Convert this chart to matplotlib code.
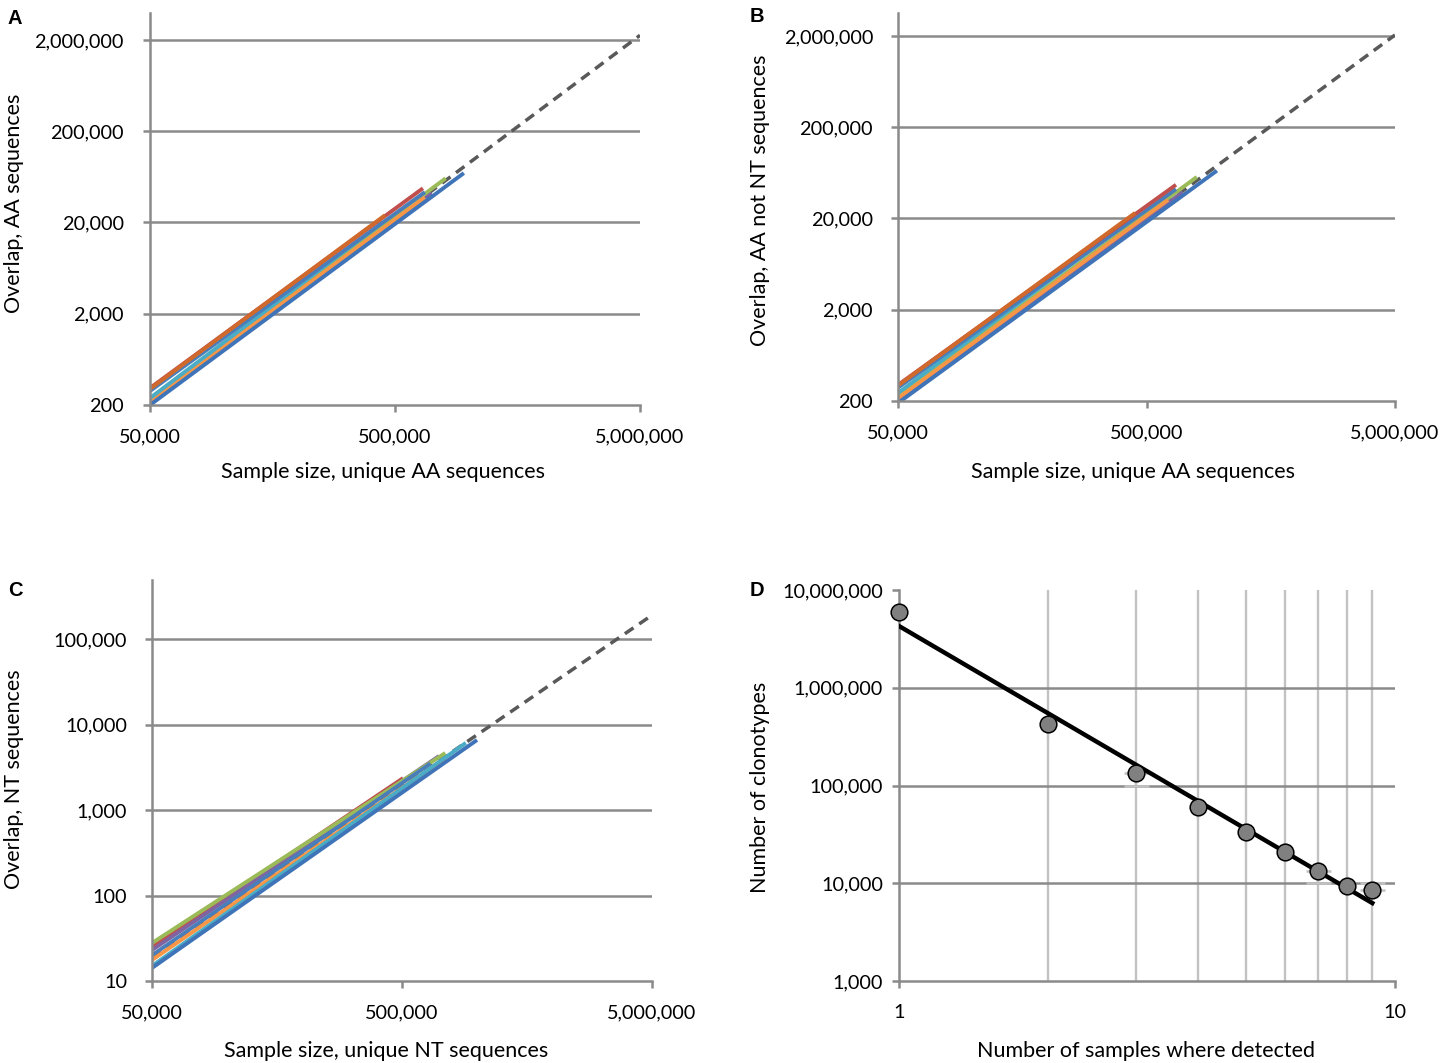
import numpy as np
import matplotlib
matplotlib.use("Agg")
import matplotlib.pyplot as plt
from matplotlib.ticker import FixedLocator, FuncFormatter, NullLocator

plt.rcParams['font.family'] = ['Lato', 'DejaVu Sans']

W, H = 1441, 1063

# ---- data ----
size_ticks = [50000, 500000, 5000000]

# panel A: overlap, AA sequences
a_colors = ['#8064A2', '#9BBB59', '#F79646', '#4BACC6', '#4A7EBB', '#C0504D', '#D06A2C', '#3F74B8']
a_start_overlap = [211, 235, 219, 238, 285, 307, 300, 200]      # at 50,000
a_end_size = [706000, 805000, 662000, 447000, 662000, 650000, 455000, 955000]
a_end_overlap = [42000, 61000, 37800, 20200, 43000, 47400, 24000, 69600]
a_exp_size = [50000, 5000000]
a_exp_overlap = [220, 2250000]
a_yticks = [200, 2000, 20000, 200000, 2000000]

# panel B: overlap, AA not NT sequences
b_colors = a_colors
b_start_overlap = [199, 224, 214, 245, 280, 300, 295, 190]
b_end_size = [700000, 797000, 611000, 447000, 657000, 657000, 450000, 960000]
b_end_overlap = [39000, 57000, 32000, 20500, 42000, 46800, 23000, 66800]
b_exp_size = [50000, 5000000]
b_exp_overlap = [205, 2050000]
b_yticks = [200, 2000, 20000, 200000, 2000000]

# panel C: overlap, NT sequences
c_colors = ['#C0504D', '#8064A2', '#9BBB59', '#4A7EBB', '#F79646', '#4BACC6', '#3F74B8']
c_start_overlap = [25, 23, 27.8, 20, 17.6, 15, 14.2]
c_end_size = [505000, 703000, 745000, 650000, 745000, 900000, 998000]
c_end_overlap = [2360, 4270, 4640, 3500, 4040, 6090, 6590]
c_exp_size = [50000, 5000000]
c_exp_overlap = [19, 190000]
c_yticks = [10, 100, 1000, 10000, 100000]

# panel D: clonotypes vs number of samples
samples = [1, 2, 3, 4, 5, 6, 7, 8, 9]
clonotypes = [5960000, 426000, 134000, 60300, 33500, 20900, 13300, 9400, 8500]
clono_low = [5960000, 290000, 100000, 44000, 23000, 17300, 10000, 6700, 8500]
clono_high = [5960000, 426000, 134000, 60300, 33500, 20900, 13300, 9400, 10000]
fit_coef, fit_exp = 4.28e6, -2.97
d_yticks = [1000, 10000, 100000, 1000000, 10000000]
d_xticks = [1, 10]
d_minor = [2, 3, 4, 5, 6, 7, 8, 9]

GRID = '#8a8a8a'
LIGHT = '#c2c2c2'
comma = FuncFormatter(lambda v, p: f'{v:,.0f}')


def px_axes(fig, left, top, right, bottom):
    return fig.add_axes([left / W, 1 - bottom / H, (right - left) / W, (bottom - top) / H])


def style_axes(ax, xticks, yticks, ylabel_pad, xlabel_pad=11.5):
    ax.set_xscale('log')
    ax.set_yscale('log')
    ax.xaxis.set_major_locator(FixedLocator(xticks))
    ax.yaxis.set_major_locator(FixedLocator(yticks))
    ax.xaxis.set_minor_locator(NullLocator())
    ax.yaxis.set_minor_locator(NullLocator())
    ax.xaxis.set_major_formatter(comma)
    ax.yaxis.set_major_formatter(comma)
    for s in ['top', 'right']:
        ax.spines[s].set_visible(False)
    for s in ['left', 'bottom']:
        ax.spines[s].set_color(GRID)
        ax.spines[s].set_linewidth(1.8)
    ax.tick_params(axis='both', length=5, width=1.8, color=GRID, labelsize=14.3)
    ax.tick_params(axis='y', pad=ylabel_pad)
    ax.tick_params(axis='x', pad=xlabel_pad)
    ax.set_axisbelow(True)


def overlap_panel(ax, colors, start, end_size, end_overlap, exp_size, exp_overlap,
                  yticks, ylim, ypad):
    style_axes(ax, size_ticks, yticks, ypad)
    ax.set_xlim(size_ticks[0], size_ticks[-1])
    ax.set_ylim(*ylim)
    for y in yticks[1:]:
        ax.axhline(y, color=GRID, lw=1.8, zorder=0)
    ax.plot(exp_size, exp_overlap, color='#595959', lw=2.5,
            linestyle=(0, (3, 2)), zorder=1)
    for col, s0, xs, ys in zip(colors, start, end_size, end_overlap):
        ax.plot([size_ticks[0], xs], [s0, ys], color=col, lw=2.8,
                solid_capstyle='butt', zorder=2)


fig = plt.figure(figsize=(W / 100, H / 100), dpi=100)

# A
axA = px_axes(fig, 150, 13, 640, 405)
overlap_panel(axA, a_colors, a_start_overlap, a_end_size, a_end_overlap,
              a_exp_size, a_exp_overlap, a_yticks, (200, 3.95e6), 14)

# B
axB = px_axes(fig, 898, 13, 1395, 401)
overlap_panel(axB, b_colors, b_start_overlap, b_end_size, b_end_overlap,
              b_exp_size, b_exp_overlap, b_yticks, (200, 3.57e6), 13)

# C
axC = px_axes(fig, 152, 580, 652, 981)
overlap_panel(axC, c_colors, c_start_overlap, c_end_size, c_end_overlap,
              c_exp_size, c_exp_overlap, c_yticks, (10, 4.9e5), 13)

# D
axD = px_axes(fig, 899, 590, 1395, 981)
style_axes(axD, d_xticks, d_yticks, 6.5)
axD.set_xlim(1, 10)
axD.set_ylim(1000, 1e7)
for xv in d_minor:
    axD.axvline(xv, color=LIGHT, lw=1.7, zorder=0)
for y in d_yticks[1:-1]:
    axD.axhline(y, color=GRID, lw=1.8, zorder=0)
xs = np.array(samples, dtype=float)
ys = np.array(clonotypes, dtype=float)
lo = ys - np.array(clono_low)
hi = np.array(clono_high) - ys
axD.errorbar(xs, ys, yerr=[lo, hi], fmt='none', ecolor=LIGHT, elinewidth=1.6,
             capsize=0, zorder=1)
cap_idx = [2, 6, 8]
axD.errorbar(xs[cap_idx], ys[cap_idx], yerr=[lo[cap_idx], hi[cap_idx]], fmt='none',
             ecolor=LIGHT, elinewidth=1.6, capsize=9, capthick=1.8, zorder=1)
xf = np.array([samples[0], samples[-1]], dtype=float)
axD.plot(xf, fit_coef * xf ** fit_exp, color='black', lw=3.2, zorder=3)
axD.plot(xs, ys, 'o', ms=12, mfc='#808080', mec='black', mew=1.1, zorder=4,
         clip_on=False)

# axis labels
def ftext(x, y, s, **kw):
    fig.text(x / W, 1 - y / H, s, ha='center', va='center', fontsize=15.5, **kw)

ftext(14, 203, 'Overlap, AA sequences', rotation=90)
ftext(383, 472, 'Sample size, unique AA sequences')
ftext(760, 200, 'Overlap, AA not NT sequences', rotation=90)
ftext(1133, 472, 'Sample size, unique AA sequences')
ftext(14, 779, 'Overlap, NT sequences', rotation=90)
ftext(386, 1051, 'Sample size, unique NT sequences')
ftext(760, 787, 'Number of clonotypes', rotation=90)
ftext(1146, 1051, 'Number of samples where detected')

for lbl, x, y in [('A', 15, 18), ('B', 757, 17), ('C', 15, 590), ('D', 757, 590)]:
    fig.text(x / W, 1 - y / H, lbl, ha='center', va='center', fontsize=14.5,
             fontweight='bold', family=['Liberation Sans', 'DejaVu Sans'])

fig.savefig('out.png', dpi=100, facecolor='white')
